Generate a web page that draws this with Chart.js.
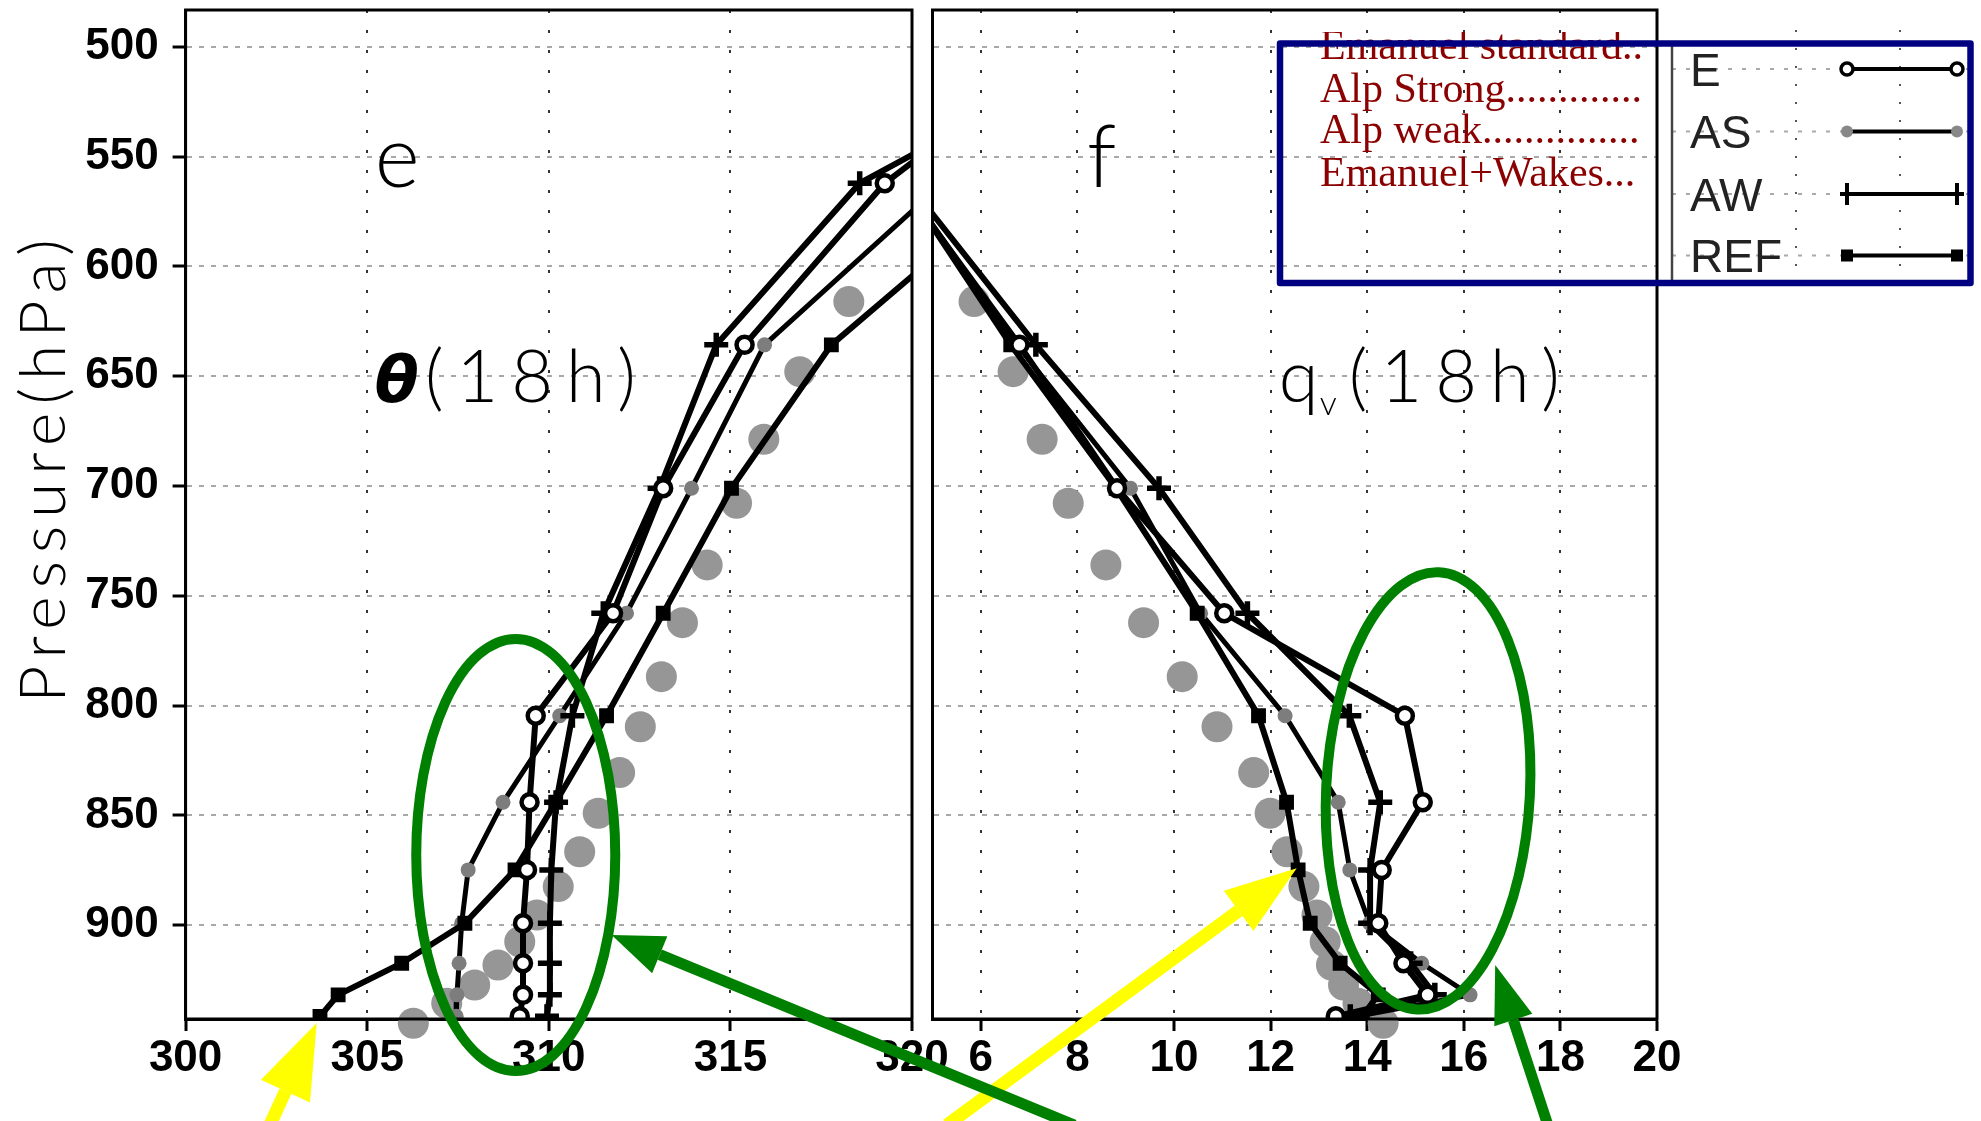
<!DOCTYPE html>
<html>
<head>
<meta charset="utf-8">
<script src="https://cdn.jsdelivr.net/npm/chart.js@4/dist/chart.umd.min.js"></script>
<style>
  html, body { margin: 0; padding: 0; background: #fff; }
  #contenedor { position: relative; width: 1981px; height: 1121px; overflow: hidden; background: #fff; }
  canvas { position: absolute; left: 0; top: 0; }
</style>
</head>
<body>
<div id="contenedor">
  <canvas id="graficoTheta" width="1981" height="1121"></canvas>
  <canvas id="graficoQv" width="1981" height="1121"></canvas>
</div>
<script>
// niveles del modelo (hPa)
const niveles = [490, 562.1, 635.7, 701, 757.9, 804.6, 844, 874.8, 899.1, 917.3, 931.7, 941.5];

// theta (K) a las 18h
const thetaE   = [325.0, 319.25, 315.39, 313.15, 311.77, 309.64, 309.47, 309.40, 309.29, 309.29, 309.29, 309.20];
const thetaAS  = [325.7, 320.85, 315.94, 313.93, 312.14, 310.30, 308.74, 307.78, 307.60, 307.53, 307.47, 307.45];
const thetaAW  = [326.6, 318.56, 314.61, 313.05, 311.50, 310.65, 310.20, 310.07, 310.03, 310.03, 310.03, 309.95];
const thetaREF = [328.1, 323.00, 317.78, 315.03, 313.15, 311.59, 310.19, 309.07, 307.69, 305.95, 304.20, 303.70];

// qv (g/kg) a las 18h
const qvE   = [3.0, 4.35, 6.80, 8.82, 11.04, 14.78, 15.15, 14.30, 14.23, 14.75, 15.25, 13.35];
const qvAS  = [3.0, 4.40, 6.75, 9.10, 10.55, 12.30, 13.40, 13.64, 14.05, 15.13, 16.13, 13.80];
const qvAW  = [3.2, 4.50, 7.14, 9.69, 11.52, 13.63, 14.27, 14.06, 14.06, 14.90, 15.40, 13.65];
const qvREF = [3.1, 4.40, 6.62, 8.80, 10.48, 11.75, 12.33, 12.57, 12.82, 13.44, 14.23, 13.90];

// observaciones (puntos grises grandes)
const presionObs = [616.0, 647.9, 678.7, 707.8, 735.9, 762.2, 786.8, 809.6, 830.5, 849.0, 866.5, 882.4, 895.3, 907.5, 918.1, 927.2, 935.5, 944.6];
const thetaObs = [318.26, 316.91, 315.92, 315.17, 314.36, 313.68, 313.10, 312.52, 311.95, 311.36, 310.85, 310.26, 309.67, 309.20, 308.60, 307.96, 307.19, 306.27];
const qvObs = [5.86, 6.67, 7.27, 7.81, 8.59, 9.37, 10.17, 10.89, 11.65, 11.99, 12.34, 12.69, 12.96, 13.13, 13.26, 13.51, 13.81, 14.33];

// ejes
const ticksPresion = [500, 550, 600, 650, 700, 750, 800, 850, 900];
const ticksTheta = [300, 305, 310, 315, 320];
const ticksQv = [6, 8, 10, 12, 14, 16, 18, 20];

// leyenda
const nombresLargos = ['Emanuel standard..', 'Alp Strong.............', 'Alp weak...............', 'Emanuel+Wakes...'];
const abreviaturas = ['E', 'AS', 'AW', 'REF'];

const fuenteTicks = { family: '"Liberation Sans", Arial, sans-serif', size: 44, weight: 'bold' };

function puntos(valores, presiones) {
    return presiones.map((p, i) => ({ x: valores[i], y: p }));
}

function series(valE, valAS, valAW, valREF, valObs) {
    return [
        { label: 'E', data: puntos(valE, niveles), borderColor: '#000', borderWidth: 6,
          pointStyle: 'circle', pointRadius: 8, pointBorderWidth: 4.5,
          pointBackgroundColor: '#fff', pointBorderColor: '#000', clip: 0, order: 1 },
        { label: 'AW', data: puntos(valAW, niveles), borderColor: '#000', borderWidth: 6,
          pointStyle: 'cross', pointRadius: 12, pointBorderWidth: 5.5,
          pointBorderColor: '#000', clip: 0, order: 2 },
        { label: 'REF', data: puntos(valREF, niveles), borderColor: '#000', borderWidth: 6,
          pointStyle: 'rect', pointRadius: 10.5, pointBorderWidth: 0,
          pointBackgroundColor: '#000', clip: 0, order: 3 },
        { label: 'AS', data: puntos(valAS, niveles), borderColor: '#000', borderWidth: 5,
          pointStyle: 'circle', pointRadius: 7.5, pointBorderWidth: 0,
          pointBackgroundColor: '#7d7d7d', clip: 0, order: 4 },
        { label: 'OBS', data: puntos(valObs, presionObs), showLine: false,
          pointStyle: 'circle', pointRadius: 15.5, pointBorderWidth: 0,
          pointBackgroundColor: 'rgb(150,150,150)', clip: false, order: 10 }
    ];
}

function ejeY(anchoEje, conEtiquetas) {
    return {
        type: 'linear', reverse: true, min: 483.2, max: 942.7,
        afterBuildTicks: s => { s.ticks = ticksPresion.map(v => ({ value: v })); },
        afterFit: s => { s.width = anchoEje; s.paddingTop = 0; s.paddingBottom = 0; },
        ticks: { display: conEtiquetas, font: fuenteTicks, color: '#000', padding: 14, callback: v => String(v) },
        grid: { color: '#a8a8a8', lineWidth: 2, tickColor: '#000', tickWidth: 3, tickLength: 13, drawTicks: conEtiquetas },
        border: { color: '#000', width: 3, dash: [5, 7] }
    };
}

function ejeX(min, max, lista) {
    return {
        type: 'linear', min: min, max: max,
        afterBuildTicks: s => { s.ticks = lista.map(v => ({ value: v })); },
        afterFit: s => { s.height = 102; },
        ticks: { font: fuenteTicks, color: '#000', padding: 1, autoSkip: false, maxRotation: 0, callback: v => String(v) },
        grid: { color: '#333', lineWidth: 2, tickColor: '#000', tickWidth: 3, tickLength: 12 },
        border: { color: '#000', width: 3, dash: [3, 17] }
    };
}

// marco negro de cada panel
const marco = {
    id: 'marco',
    afterDatasetsDraw(chart) {
        const { ctx, chartArea: a } = chart;
        ctx.save();
        ctx.strokeStyle = '#000';
        ctx.lineWidth = 3;
        ctx.strokeRect(a.left, a.top, a.right - a.left, a.bottom - a.top);
        ctx.restore();
    }
};

function flecha(ctx, x1, y1, x2, y2, color, grosor, largoPunta, anchoPunta) {
    // (x1,y1) cola, (x2,y2) punta
    const ang = Math.atan2(y2 - y1, x2 - x1);
    const bx = x2 - largoPunta * Math.cos(ang);
    const by = y2 - largoPunta * Math.sin(ang);
    ctx.strokeStyle = color;
    ctx.fillStyle = color;
    ctx.lineWidth = grosor;
    ctx.lineCap = 'butt';
    ctx.beginPath();
    ctx.moveTo(x1, y1);
    ctx.lineTo(bx, by);
    ctx.stroke();
    ctx.beginPath();
    ctx.moveTo(x2, y2);
    ctx.lineTo(bx + anchoPunta * Math.sin(ang), by - anchoPunta * Math.cos(ang));
    ctx.lineTo(bx - anchoPunta * Math.sin(ang), by + anchoPunta * Math.cos(ang));
    ctx.closePath();
    ctx.fill();
}

let graficoTheta = new Chart(document.getElementById('graficoTheta'), {
    type: 'line',
    data: { datasets: series(thetaE, thetaAS, thetaAW, thetaREF, thetaObs) },
    options: {
        responsive: false, animation: false, devicePixelRatio: 1,
        layout: { autoPadding: false, padding: { left: 0, top: 10, right: 1981 - 912, bottom: 0 } },
        elements: { line: { tension: 0, fill: false } },
        plugins: { legend: { display: false }, tooltip: { enabled: false } },
        scales: { x: ejeX(300, 320, ticksTheta), y: ejeY(185.6, true) }
    },
    plugins: [marco]
});

// textos, elipses, flechas y leyenda (encima de todo)
const anotaciones = {
    id: 'anotaciones',
    afterDraw(chart) {
        const ctx = chart.ctx;
        const xT = v => graficoTheta.scales.x.getPixelForValue(v);
        const yT = v => graficoTheta.scales.y.getPixelForValue(v);
        const xQ = v => chart.scales.x.getPixelForValue(v);
        const yQ = v => chart.scales.y.getPixelForValue(v);

        ctx.save();
        ctx.fillStyle = '#000';
        ctx.textAlign = 'left';
        ctx.textBaseline = 'alphabetic';

        // titulo del eje
        ctx.save();
        ctx.translate(44, yT(691.3));
        ctx.rotate(-Math.PI / 2);
        ctx.font = '300 64px Lato, "DejaVu Sans", sans-serif';
        ctx.letterSpacing = '8px';
        ctx.textAlign = 'center';
        ctx.textBaseline = 'middle';
        ctx.fillText('Pressure(hPa)', 0, 0);
        ctx.restore();

        // letras de panel
        ctx.font = '300 86px Lato, "DejaVu Sans", sans-serif';
        ctx.fillText('e', xT(305.21), yT(563.8));
        ctx.fillText('f', xQ(8.20), yQ(563.8));

        ctx.font = 'italic bold 64px "DejaVu Sans", sans-serif';
        ctx.fillText('\u03B8', xT(305.21), yT(661.7));
        ctx.font = '300 72px Lato, "DejaVu Sans", sans-serif';
        ctx.letterSpacing = '13px';
        ctx.fillText('(18h)', xT(306.59), yT(661.7));
        ctx.letterSpacing = '0px';
        ctx.fillText('q', xQ(12.17), yQ(661.7));
        ctx.font = '300 34px Lato, "DejaVu Sans", sans-serif';
        ctx.fillText('v', xQ(13.02), yQ(667.5));
        ctx.font = '300 72px Lato, "DejaVu Sans", sans-serif';
        ctx.letterSpacing = '13px';
        ctx.fillText('(18h)', xQ(13.62), yQ(661.7));
        ctx.letterSpacing = '0px';

        // elipses verdes
        ctx.strokeStyle = '#008000';
        ctx.lineWidth = 10;
        ctx.beginPath();
        ctx.ellipse(xT(309.09), yT(868), xT(309.09 + 2.74) - xT(309.09), yT(868 + 98.4) - yT(868), 0, 0, Math.PI * 2);
        ctx.stroke();
        ctx.beginPath();
        ctx.ellipse(xQ(15.26), yQ(838.8), xQ(15.26 + 2.11) - xQ(15.26), yQ(838.8 + 99.7) - yQ(838.8), 0.05, 0, Math.PI * 2);
        ctx.stroke();

        // flechas
        flecha(ctx, xT(302.32), yT(991), xT(303.61), yT(944.5), '#ffff00', 13, 75, 27);
        flecha(ctx, xQ(5.30), yQ(991), xQ(12.54), yQ(874.0), '#ffff00', 13, 72, 25);
        flecha(ctx, xT(324.47), yT(991), xT(311.73), yT(904.4), '#008000', 11, 52, 20);
        flecha(ctx, xQ(17.74), yQ(991), xQ(16.65), yQ(918.1), '#008000', 11, 58, 20);

        // leyenda: parte derecha (imagen blanca con su propia grilla)
        ctx.fillStyle = '#fff';
        ctx.fillRect(1660, 30, 308, 250);
        ctx.lineWidth = 2;
        ctx.strokeStyle = '#555';
        ctx.setLineDash([2, 16]);
        [1796, 1900].forEach(xx => {
            ctx.beginPath(); ctx.moveTo(xx, 30); ctx.lineTo(xx, 280); ctx.stroke();
        });
        const filas = [69, 131.5, 194, 255.5];
        ctx.strokeStyle = '#aaa';
        ctx.setLineDash([4, 10]);
        filas.forEach(yy => {
            ctx.beginPath(); ctx.moveTo(1672, yy); ctx.lineTo(1968, yy); ctx.stroke();
        });
        ctx.setLineDash([]);
        ctx.strokeStyle = '#444';
        ctx.lineWidth = 2.5;
        ctx.beginPath(); ctx.moveTo(1672, 44); ctx.lineTo(1672, 282); ctx.stroke();

        ctx.fillStyle = '#222';
        ctx.font = '46px "Liberation Sans", Arial, sans-serif';
        abreviaturas.forEach((t, i) => ctx.fillText(t, 1690, filas[i] + 16.5));

        // muestras de linea
        filas.forEach((yy, i) => {
            ctx.strokeStyle = '#000';
            ctx.lineWidth = 4;
            ctx.beginPath(); ctx.moveTo(1847, yy); ctx.lineTo(1957, yy); ctx.stroke();
            [1847, 1957].forEach(xx => {
                if (i === 0) {
                    ctx.fillStyle = '#fff'; ctx.lineWidth = 3.5;
                    ctx.beginPath(); ctx.arc(xx, yy, 6, 0, Math.PI * 2); ctx.fill(); ctx.stroke();
                } else if (i === 1) {
                    ctx.fillStyle = '#888';
                    ctx.beginPath(); ctx.arc(xx, yy, 6, 0, Math.PI * 2); ctx.fill();
                } else if (i === 2) {
                    ctx.lineWidth = 4;
                    ctx.beginPath(); ctx.moveTo(xx, yy - 11); ctx.lineTo(xx, yy + 11);
                    ctx.moveTo(xx - 7, yy); ctx.lineTo(xx + 7, yy); ctx.stroke();
                } else {
                    ctx.fillStyle = '#000';
                    ctx.fillRect(xx - 6, yy - 6, 12, 12);
                }
            });
        });

        // textos rojos
        ctx.save();
        ctx.beginPath(); ctx.rect(1283, 32, 380, 250); ctx.clip();
        ctx.fillStyle = 'rgb(139,0,0)';
        ctx.font = '42px "Liberation Serif", "Times New Roman", serif';
        const bases = [59, 102, 143, 186];
        nombresLargos.forEach((t, i) => ctx.fillText(t, 1320, bases[i]));
        ctx.restore();

        // recuadro azul
        ctx.strokeStyle = '#000080';
        ctx.lineWidth = 6.5;
        ctx.lineJoin = 'round';
        ctx.strokeRect(1280, 43.5, 690.5, 239.5);
        ctx.restore();
    }
};

let graficoQv = new Chart(document.getElementById('graficoQv'), {
    type: 'line',
    data: { datasets: series(qvE, qvAS, qvAW, qvREF, qvObs) },
    options: {
        responsive: false, animation: false, devicePixelRatio: 1,
        layout: { autoPadding: false, padding: { left: 932.5, top: 10, right: 1981 - 1657, bottom: 0 } },
        elements: { line: { tension: 0, fill: false } },
        plugins: { legend: { display: false }, tooltip: { enabled: false } },
        scales: { x: ejeX(5, 20, ticksQv), y: ejeY(0, false) }
    },
    plugins: [marco, anotaciones]
});
</script>
</body>
</html>
